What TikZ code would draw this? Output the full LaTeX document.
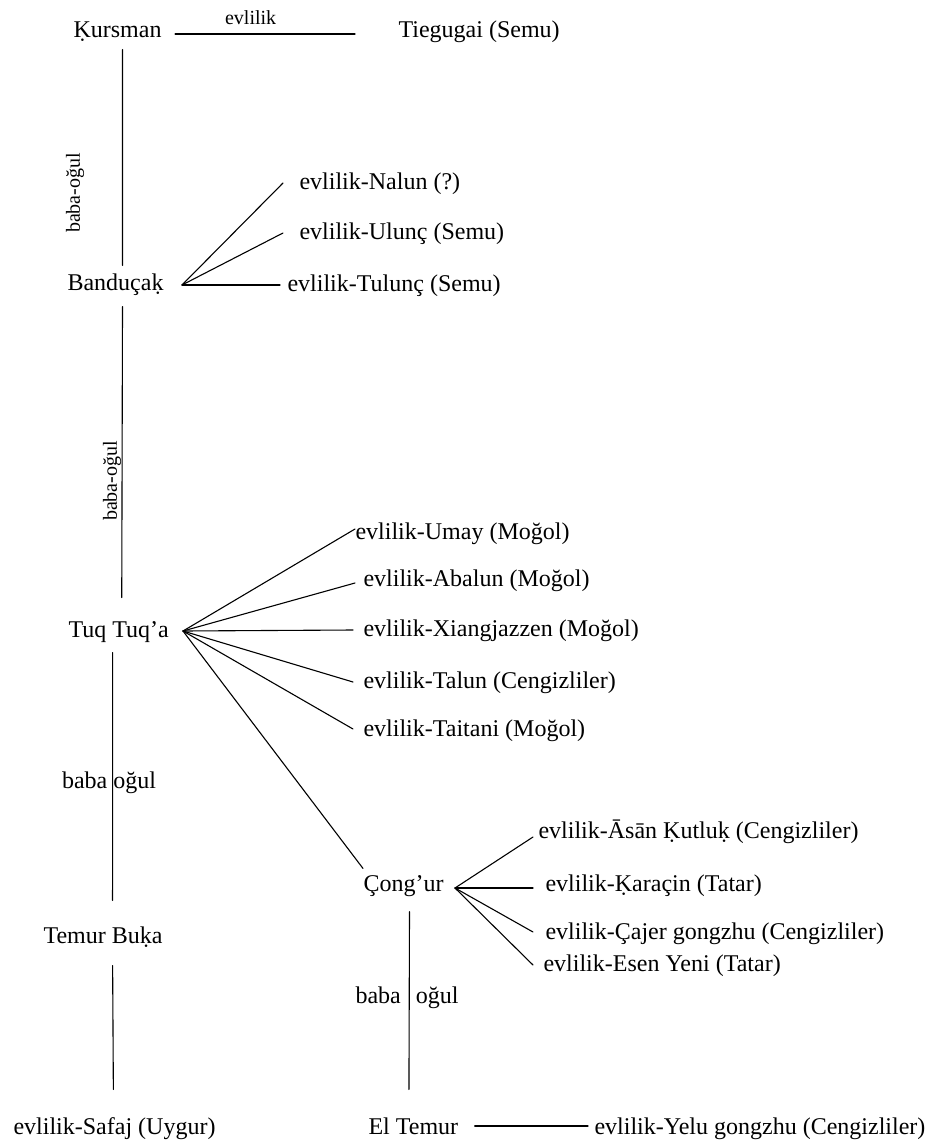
\documentclass[tikz,border=0pt]{standalone}
\usepackage{fontspec}
\setmainfont{Liberation Serif}
\begin{document}
\begin{tikzpicture}[x=1pt,y=-1pt,line width=1.1pt,line cap=round,
	who/.style={anchor=west,inner sep=0pt,text height=17pt,text depth=5pt,font=\fontsize{24}{28}\selectfont},
	tag/.style={inner sep=0pt,font=\fontsize{20}{24}\selectfont}]
	\useasboundingbox (0,0) rectangle (940,1145);
	\node[who] (kursman) at (73,32) {Ḳursman};
	\node[who] (tiegugai) at (398,32) {Tiegugai (Semu)};
	\node[who] (bandu) at (67,284) {Banduçaḳ};
	\node[who] (nalun) at (299,183) {evlilik-Nalun (?)};
	\node[who] (ulunc) at (299,233) {evlilik-Ulunç (Semu)};
	\node[who] (tulunc) at (287,285) {evlilik-Tulunç (Semu)};
	\node[who] (tuq) at (68,631) {Tuq Tuq’a};
	\node[who] (umay) at (355,533) {evlilik-Umay (Moğol)};
	\node[who] (abalun) at (363,580) {evlilik-Abalun (Moğol)};
	\node[who] (xiang) at (363,630) {evlilik-Xiangjazzen (Moğol)};
	\node[who] (talun) at (363,682) {evlilik-Talun (Cengizliler)};
	\node[who] (taitani) at (363,730) {evlilik-Taitani (Moğol)};
	\node[who] (cong) at (363,885) {Çong’ur};
	\node[who] (asan) at (538,832) {evlilik-Āsān Ḳutluḳ (Cengizliler)};
	\node[who] (karacin) at (545,885) {evlilik-Ḳaraçin (Tatar)};
	\node[who] (cajer) at (545,933) {evlilik-Çajer gongzhu (Cengizliler)};
	\node[who] (esen) at (543,965) {evlilik-Esen Yeni (Tatar)};
	\node[who] (temur) at (43,937) {Temur Buḳa};
	\node[who] (safaj) at (13,1128) {evlilik-Safaj (Uygur)};
	\node[who] (eltemur) at (368,1128) {El Temur};
	\node[who] (yelu) at (594,1128) {evlilik-Yelu gongzhu (Cengizliler)};
	\node[tag,rotate=90] (bo1) at (75,193) {baba-oğul};
	\node[tag,rotate=90] (bo2) at (112,481) {baba-oğul};
	\node[who,anchor=center] (bo3) at (109,782) {baba oğul};
	\node[who,anchor=center] (bo4) at (407,997) {baba\hspace{15pt}oğul};
	\coordinate (bhub) at (182,285);
	\coordinate (tuqhub) at (183,631);
	\coordinate (conghub) at (455,888);
	\draw ([xshift=13pt,yshift=-2pt]kursman.east) -- node[tag,above=9pt,pos=0.42]{evlilik} ([xshift=-43pt,yshift=-2pt]tiegugai.west);
	\draw[shorten <=6pt,shorten >=7pt] ([xshift=5pt]kursman.south) -- ([xshift=7pt]bandu.north);
	\draw[shorten <=11pt,shorten >=22pt] ([xshift=7pt]bandu.south) -- ([xshift=3pt]tuq.north);
	\draw[shorten <=10pt,shorten >=25pt] ([xshift=-6pt]tuq.south) -- ([xshift=9.5pt]temur.north);
	\draw[shorten <=17pt,shorten >=27pt] ([xshift=9.5pt]temur.south) -- ([xshift=-1pt]safaj.north);
	\draw[shorten <=15pt,shorten >=27pt] ([xshift=6pt]cong.south) -- ([xshift=-4.5pt]eltemur.north);
	\draw (bhub) -- ([xshift=-16pt]nalun.west);
	\draw (bhub) -- ([xshift=-16pt]ulunc.west);
	\draw (bhub) -- ([xshift=-7pt]tulunc.west);
	\draw (tuqhub) -- ([yshift=4pt]umay.west);
	\draw (tuqhub) -- ([xshift=-8pt,yshift=-3pt]abalun.west);
	\draw (tuqhub) -- ([xshift=-10pt]xiang.west);
	\draw (tuqhub) -- ([xshift=-10pt]talun.west);
	\draw (tuqhub) -- ([xshift=-10pt,yshift=1pt]taitani.west);
	\draw (tuqhub) -- ([yshift=5pt]cong.north west);
	\draw (conghub) -- ([xshift=-5pt,yshift=-5pt]asan.west);
	\draw (conghub) -- ([xshift=-12pt,yshift=-3pt]karacin.west);
	\draw (conghub) -- ([xshift=-12pt,yshift=1pt]cajer.west);
	\draw (conghub) -- ([xshift=-10pt]esen.west);
	\draw ([xshift=16pt,yshift=2pt]eltemur.east) -- ([xshift=-6pt,yshift=2pt]yelu.west);
\end{tikzpicture}
\end{document}
